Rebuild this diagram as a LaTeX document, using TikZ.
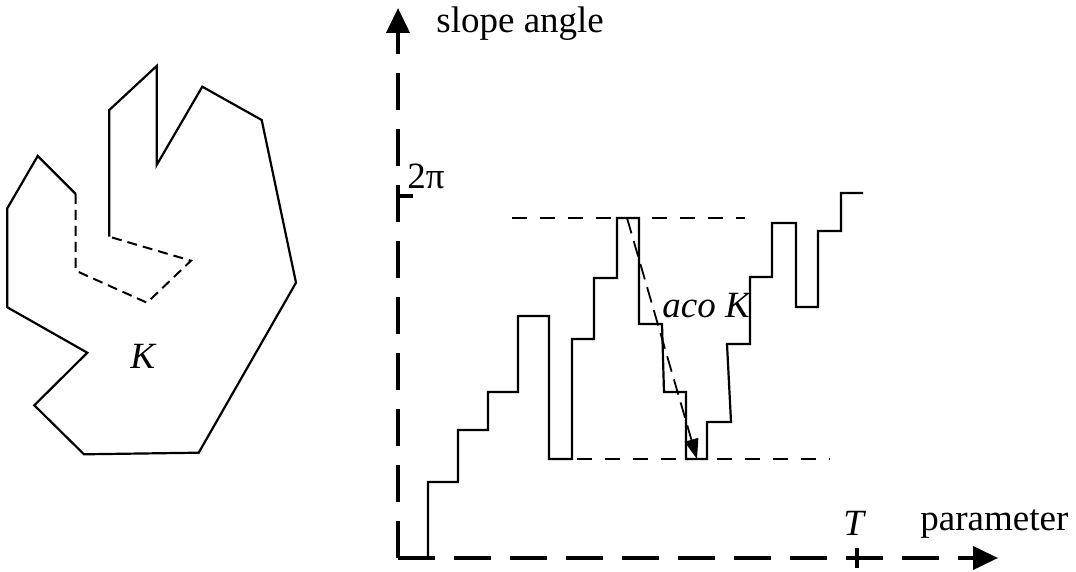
\documentclass[tikz,border=0pt]{standalone}
\usepackage{fontspec}
\setmainfont{Liberation Serif}
\usetikzlibrary{arrows.meta}

\begin{document}
\begin{tikzpicture}[
    x=0.5pt, y=-0.5pt,
    font=\fontsize{18.5}{22}\selectfont,
    axis line/.style={line width=2pt, dash pattern=on 18.5pt off 9.5pt, -{Triangle[length=12.5pt, width=11.5pt]}},
    tick line/.style={line width=1.6pt},
    curve line/.style={line width=1.1pt, line join=miter},
    guide line/.style={line width=0.9pt, dash pattern=on 7.5pt off 6.5pt},
    hidden edge/.style={line width=1pt, dash pattern=on 5pt off 3pt},
    aco arrow/.style={line width=0.9pt, dash pattern=on 8pt off 4pt, -{Triangle[length=10pt, width=7pt]}},
    axis label/.style={anchor=base west, inner sep=0pt},
]

\useasboundingbox (0,0) rectangle (1076,572);

% Region K
\draw[curve line] (75.7,194) -- (37.7,156) -- (7.3,208.3) -- (7.3,307.3) -- (87.3,352.7)
    -- (34.3,405.3) -- (84,454.3) -- (198.7,452.7) -- (296,282.7) -- (261.7,120)
    -- (202.3,86.7) -- (156.7,165) -- (156.7,66) -- (109.3,110) -- (109.3,236.7);
\draw[hidden edge] (75.7,194) -- (75.7,270.7) -- (147,302.7) -- (191,260.7) -- (109.3,236.7);
\node[axis label, font=\fontsize{18.5}{22}\selectfont\itshape] (klabel) at (130,368) {K};

% Axes
\coordinate (origin) at (398,558);
\coordinate (ytip) at (398,8);
\coordinate (xtip) at (998,558);
\draw[axis line] (origin) -- (ytip);
\draw[axis line] (origin) -- (xtip);
\node[axis label] (ylabel) at (436,33) {slope angle};
\node[axis label] (xlabel) at (920,530) {parameter};

% Ticks
\draw[tick line] (398,196) -- (413,196);
\node[axis label] (twopi) at (407,189) {2π};
\draw[tick line] (857,548) -- (857,568);
\node[axis label, font=\fontsize{18.5}{22}\selectfont\itshape] (tlabel) at (843,535) {T};

% Guide lines
\draw[guide line] (512,218) -- (745,218);
\draw[guide line] (549,459) -- (830,459);

% Slope angle function
\draw[curve line] (origin) -- (428,558) -- (428,482) -- (458,482) -- (458,430) -- (488,430)
    -- (488,392) -- (518,392) -- (518,316) -- (549,316) -- (549,459) -- (572,459)
    -- (572,339) -- (594,339) -- (594,278) -- (617,278) -- (617,218) -- (639,218)
    -- (639,324) -- (662,324) -- (664,392) -- (686,392) -- (686,459) -- (707,459)
    -- (707,422) -- (731,422) -- (727,344) -- (750,344) -- (750,277) -- (772,277)
    -- (772,223) -- (796,223) -- (796,307) -- (818,307) -- (818,231) -- (841,231)
    -- (841,193) -- (863,193);

% aco K
\coordinate (acostart) at (627,218);
\coordinate (acoend) at (697,459);
\draw[aco arrow] (acostart) -- (acoend);
\node[axis label, font=\fontsize{18.5}{22}\selectfont\itshape] (acolabel) at (662,317) {aco K};

\end{tikzpicture}
\end{document}
